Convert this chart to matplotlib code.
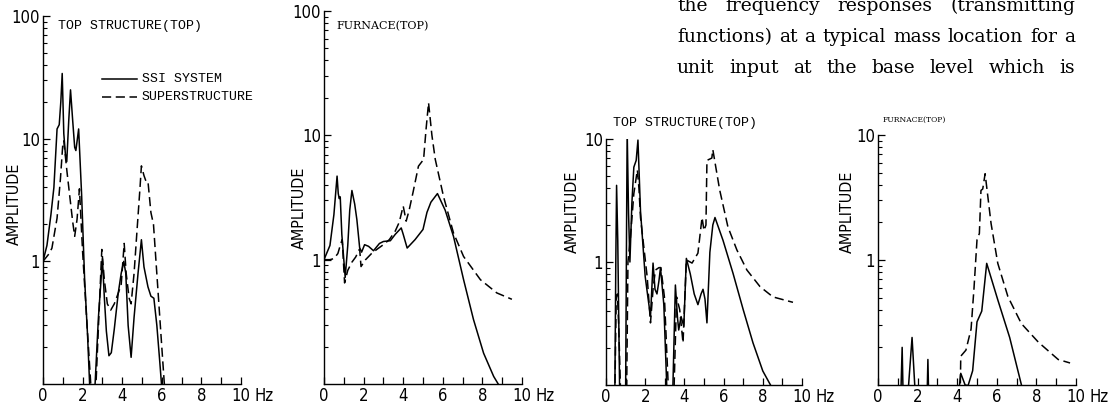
import matplotlib
matplotlib.use('Agg')
import matplotlib.pyplot as plt
from matplotlib.ticker import LogLocator, NullFormatter, FixedLocator

W, H = 1115, 409

# panel 1 - top structure (top), original structure
f1_ssi = [0, 0.2, 0.4, 0.55, 0.71, 0.82, 0.9, 0.97, 1.05, 1.13, 1.2, 1.3, 1.39, 1.5, 1.6, 1.66, 1.72, 1.8, 1.95, 2.1, 2.25, 2.38,
          2.6, 2.8, 2.9, 3.0, 3.1, 3.2, 3.33, 3.45, 3.6, 3.8, 3.95, 4.08, 4.18, 4.3, 4.45, 4.6, 4.8, 4.97, 5.1, 5.3, 5.45, 5.6, 5.75, 5.9, 6.03]
a1_ssi = [1.0, 1.35, 2.4, 4.0, 12.0, 13.0, 20.0, 34.0, 11.0, 7.5, 6.5, 14.0, 25.0, 14.0, 8.5, 8.0, 9.5, 12.0, 3.5, 0.73, 0.25, 0.08,
          0.08, 0.35, 0.6, 1.05, 0.5, 0.27, 0.17, 0.18, 0.28, 0.55, 0.8, 1.0, 0.8, 0.3, 0.165, 0.35, 0.8, 1.5, 0.9, 0.62, 0.52, 0.5, 0.3, 0.15, 0.08]
f1_sup = [0, 0.3, 0.45, 0.71, 0.88, 1.0, 1.05, 1.21, 1.38, 1.5, 1.6, 1.72, 1.84, 2.0, 2.2, 2.45,
          2.65, 2.85, 2.97, 3.1, 3.25, 3.42, 3.6, 3.8, 3.95, 4.1, 4.2, 4.35, 4.45, 4.6, 4.75, 4.9, 4.97, 5.1, 5.2, 5.3, 5.45, 5.58, 5.8, 6.0, 6.17]
a1_sup = [1.0, 1.15, 1.28, 2.25, 4.7, 9.0, 9.6, 5.4, 3.1, 2.1, 1.6, 2.2, 3.9, 1.2, 0.35, 0.08,
          0.08, 0.45, 1.25, 0.7, 0.45, 0.40, 0.45, 0.55, 0.65, 1.4, 0.8, 0.5, 0.45, 0.8, 1.8, 4.0, 6.0, 5.0, 4.5, 4.5, 2.5, 2.0, 0.6, 0.2, 0.08]

# panel 2 - furnace (top), original structure
f2_ssi = [0, 0.3, 0.5, 0.6, 0.66, 0.72, 0.77, 0.82, 0.9, 1.07, 1.2, 1.3, 1.41, 1.55, 1.66, 1.8, 1.9, 2.05, 2.25, 2.5, 2.8, 3.0, 3.35,
          3.6, 3.9, 4.0, 4.2, 4.6, 5.0, 5.2, 5.4, 5.73, 6.12, 6.54, 7.05, 7.55, 8.06, 8.57, 8.9]
a2_ssi = [1.0, 1.3, 2.3, 3.6, 4.7, 3.4, 3.1, 3.2, 1.6, 0.72, 1.3, 2.5, 3.6, 2.8, 2.1, 1.25, 1.15, 1.32, 1.28, 1.18, 1.35, 1.4, 1.42,
          1.6, 1.8, 1.6, 1.24, 1.45, 1.75, 2.4, 2.9, 3.4, 2.5, 1.54, 0.69, 0.33, 0.177, 0.115, 0.094]
f2_sup = [0, 0.3, 0.5, 0.7, 0.85, 0.92, 1.04, 1.2, 1.4, 1.6, 1.8, 1.87, 2.1, 2.4, 2.7, 3.0, 3.3, 3.6, 3.8, 4.0, 4.15, 4.3, 4.5,
          4.77, 5.03, 5.15, 5.28, 5.45, 5.62, 6.04, 6.54, 7.05, 7.9, 8.73, 9.49]
a2_sup = [1.0, 1.0, 1.02, 1.12, 1.35, 1.45, 0.65, 0.82, 0.95, 1.05, 1.22, 0.88, 1.0, 1.12, 1.22, 1.32, 1.45, 1.7, 2.0, 2.7, 2.04, 2.5, 3.5,
          5.65, 6.4, 11.0, 18.3, 10.0, 6.4, 3.2, 1.64, 1.06, 0.69, 0.54, 0.48]

# panel 3 - top structure (top), modified structure
f3_ssi = [0.45, 0.5, 0.54, 0.6, 0.7, 1.0, 1.05, 1.08, 1.15, 1.22, 1.32, 1.42, 1.54, 1.63, 1.76, 2.0, 2.15, 2.27, 2.4, 2.5, 2.6, 2.7,
          2.78, 2.95, 3.12, 3.4, 3.54, 3.65, 3.71, 3.83, 3.97, 4.1, 4.3, 4.5, 4.69, 4.85, 4.95, 5.05, 5.15, 5.3, 5.45, 5.56,
          5.97, 6.48, 7.0, 7.5, 8.0, 8.47]
a3_ssi = [0.08, 1.0, 4.2, 1.5, 0.08, 0.08, 2.0, 11.8, 2.5, 1.0, 3.0, 5.9, 6.7, 9.8, 2.6, 0.76, 0.5, 0.36, 0.98, 0.6, 0.55, 0.7,
          0.9, 0.45, 0.08, 0.08, 0.65, 0.35, 0.28, 0.36, 0.3, 1.07, 0.8, 0.55, 0.45, 0.55, 0.6, 0.5, 0.32, 1.2, 2.0, 2.3,
          1.5, 0.81, 0.41, 0.22, 0.13, 0.095]
f3_sup = [0.45, 0.52, 0.58, 0.65, 0.75, 1.05, 1.12, 1.25, 1.42, 1.6, 1.68, 1.76, 2.1, 2.27, 2.4, 2.52, 2.7, 2.8, 2.98, 3.2,
          3.46, 3.6, 3.76, 3.93, 4.1, 4.39, 4.69, 4.9, 5.0, 5.1, 5.15, 5.4, 5.45, 5.8, 6.22, 6.68, 7.19, 7.86, 8.52, 9.54]
a3_sup = [0.08, 0.5, 0.55, 0.3, 0.08, 0.08, 1.0, 1.6, 3.6, 5.6, 4.0, 2.3, 0.76, 0.32, 0.6, 0.86, 0.9, 0.9, 0.52, 0.08,
          0.08, 0.52, 0.41, 0.22, 1.04, 0.98, 1.18, 2.3, 1.8, 2.0, 6.7, 7.0, 8.2, 3.85, 1.93, 1.25, 0.86, 0.63, 0.52, 0.47]

# panel 4 - furnace (top), modified structure
f4_ssi = [1.15, 1.22, 1.27, 1.5, 1.72, 1.89, 2.48, 2.52, 2.56, 4.05, 4.18, 4.4, 4.55, 4.78, 5.0, 5.24, 5.49, 6.05, 6.65, 7.28]
a4_ssi = [0.08, 0.2, 0.08, 0.08, 0.24, 0.08, 0.08, 0.16, 0.08, 0.08, 0.124, 0.1, 0.099, 0.13, 0.32, 0.39, 0.94, 0.48, 0.24, 0.095]
f4_sup = [4.15, 4.18, 4.44, 4.7, 4.85, 5.0, 5.12, 5.2, 5.29, 5.41, 5.71, 6.05, 6.56, 7.24, 8.1, 9.1, 9.7]
a4_sup = [0.08, 0.17, 0.19, 0.28, 0.6, 1.45, 1.63, 3.6, 3.7, 4.9, 1.96, 0.94, 0.51, 0.31, 0.22, 0.16, 0.15]

panel_titles = ['TOP STRUCTURE(TOP)', 'FURNACE(TOP)', 'TOP STRUCTURE(TOP)', 'FURNACE(TOP)']
paragraph = ['the frequency responses (transmitting',
             'functions) at a typical mass location for a',
             'unit input at the base level which is']

tick_font = dict(family='DejaVu Sans', stretch='condensed')

fig = plt.figure(figsize=(W / 100, H / 100), dpi=100)


def px_rect(x0, x1, yb, yt):
    return [x0 / W, 1 - yb / H, (x1 - x0) / W, (yb - yt) / H]


def make_panel(rect, ytop, ylabels):
    ax = fig.add_axes(rect)
    ax.set_yscale('log')
    ax.set_xlim(0, 10)
    ax.set_ylim(0.1, ytop)
    for s in ['top', 'right']:
        ax.spines[s].set_visible(False)
    for s in ['left', 'bottom']:
        ax.spines[s].set_linewidth(1.0)
    ax.set_xticks(range(11))
    ax.set_xticklabels(['0', '', '2', '', '4', '', '6', '', '8', '', '10'])
    yt = [10 ** k for k in range(0, len(ylabels))]
    ax.yaxis.set_major_locator(FixedLocator(yt))
    ax.set_yticklabels(ylabels)
    ax.yaxis.set_minor_locator(LogLocator(base=10, subs=range(2, 10)))
    ax.yaxis.set_minor_formatter(NullFormatter())
    ax.tick_params(axis='both', which='major', direction='in', length=5, width=0.9, pad=2)
    ax.tick_params(axis='y', which='minor', direction='in', length=3, width=0.8)
    for lab in ax.get_xticklabels() + ax.get_yticklabels():
        lab.set_family(tick_font['family'])
        lab.set_stretch(tick_font['stretch'])
        lab.set_fontsize(12)
    ax.annotate('Hz', xy=(10, 0), xycoords=('data', 'axes fraction'), xytext=(10, -2),
                textcoords='offset points', ha='left', va='top', fontsize=12, **tick_font)
    return ax


ax1 = make_panel(px_rect(43, 241, 384, 16), 100, ['1', '10', '100'])
ax1.plot(f1_ssi, a1_ssi, color='black', lw=1.1)
ax1.plot(f1_sup, a1_sup, color='black', lw=1.1, ls=(0, (6, 3)))

ax2 = make_panel(px_rect(324, 522, 384, 11), 100, ['1', '10', '100'])
ax2.plot(f2_ssi, a2_ssi, color='black', lw=1.1)
ax2.plot(f2_sup, a2_sup, color='black', lw=1.1, ls=(0, (6, 3)))

ax3 = make_panel(px_rect(606, 802, 385, 139), 10, ['1', '10'])
ax3.plot(f3_ssi, a3_ssi, color='black', lw=1.1)
ax3.plot(f3_sup, a3_sup, color='black', lw=1.1, ls=(0, (6, 3)))

ax4 = make_panel(px_rect(878, 1076, 385, 135), 10, ['1', '10'])
ax4.plot(f4_ssi, a4_ssi, color='black', lw=1.1)
ax4.plot(f4_sup, a4_sup, color='black', lw=1.1, ls=(0, (6, 3)))

# y labels
for x, y in [(14, 204), (299, 208), (572, 212), (847, 212)]:
    fig.text(x / W, 1 - y / H, 'AMPLITUDE', rotation=90, ha='center', va='center',
             fontsize=11.5, **tick_font)

# panel titles
fig.text(58 / W, 1 - 26 / H, panel_titles[0], family='Liberation Mono', fontsize=9.5, va='center')
fig.text(336 / W, 1 - 26 / H, panel_titles[1], family='DejaVu Serif', fontsize=8.0, va='center')
fig.text(613 / W, 1 - 123 / H, panel_titles[2], family='Liberation Mono', fontsize=9.5, va='center')
fig.text(883 / W, 1 - 120 / H, panel_titles[3], family='DejaVu Serif', fontsize=5.5, va='center')

# legend in first panel
fig.add_artist(plt.Line2D([102 / W, 137 / W], [1 - 79 / H, 1 - 79 / H], color='black', lw=1.1))
fig.add_artist(plt.Line2D([102 / W, 137 / W], [1 - 97 / H, 1 - 97 / H], color='black', lw=1.1, ls=(0, (6, 3))))
fig.text(142 / W, 1 - 79 / H, 'SSI SYSTEM', family='Liberation Mono', fontsize=9.5, va='center')
fig.text(142 / W, 1 - 97 / H, 'SUPERSTRUCTURE', family='Liberation Mono', fontsize=9.5, va='center')

# justified body text, top right
renderer = fig.canvas.get_renderer()
left_px, right_px = 677, 1075
for i, line in enumerate(paragraph):
    y = 1 - (6 + 31 * i) / H
    words = line.split(' ')
    texts = [fig.text(0, y, w, family='DejaVu Serif', fontsize=13.5, va='center') for w in words]
    widths = [t.get_window_extent(renderer).width for t in texts]
    gap = (right_px - left_px - sum(widths)) / (len(words) - 1)
    x = left_px
    for t, wd in zip(texts, widths):
        t.set_x(x / W)
        x += wd + gap

fig.savefig('out.png', dpi=100)
